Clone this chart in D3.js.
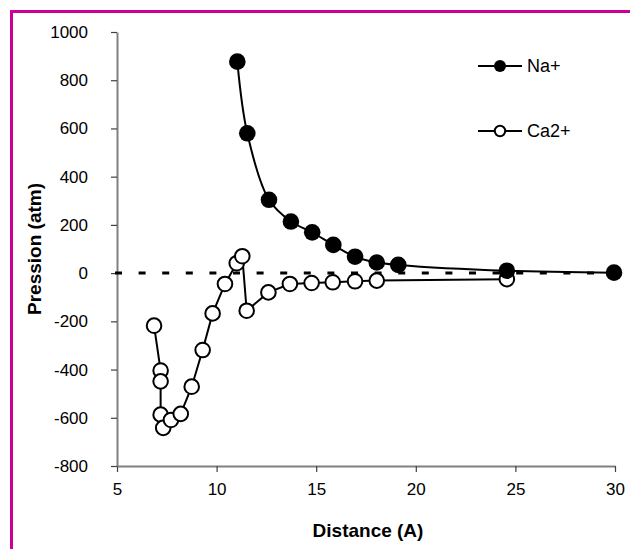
<!DOCTYPE html>
<html>
<head>
<meta charset="utf-8">
<script src="https://cdn.jsdelivr.net/npm/d3@7/dist/d3.min.js"></script>
<style>
  html, body { margin: 0; padding: 0; background: #fff; }
  svg { display: block; font-family: "Liberation Sans", Arial, Helvetica, sans-serif; }
</style>
</head>
<body>
<svg id="chart" width="630" height="549"></svg>
<script>
// Pressure vs. inter-surface distance for two counter-ions
const naDistance = [11.04, 11.54, 12.63, 13.73, 14.80, 15.86, 16.95, 18.04, 19.12, 24.57, 29.95];
const naPressure = [877, 580, 304, 214, 169, 117, 68, 44, 34, 10, 2];

const caDistance = [6.86, 7.19, 7.19, 7.19, 7.32, 7.71, 8.20, 8.75, 9.30, 9.80, 10.42, 11.01, 11.29, 11.51, 12.60, 13.68, 14.77, 15.83, 16.95, 18.04, 24.57];
const caPressure = [-218, -404, -449, -587, -642, -609, -584, -471, -319, -167, -45, 41, 70, -156, -80, -45, -41, -38, -34, -31, -25];

const xTicks = [5, 10, 15, 20, 25, 30];
const yTicks = [-800, -600, -400, -200, 0, 200, 400, 600, 800, 1000];

const seriesNames = ["Na+", "Ca2+"];

const svg = d3.select("#chart");

// frame
svg.append("rect")
  .attr("x", 11.5).attr("y", 11.5)
  .attr("width", 700).attr("height", 700)
  .attr("fill", "none")
  .attr("stroke", "#cc0099")
  .attr("stroke-width", 3);

const x = d3.scaleLinear().domain([5, 30]).range([117, 615]);
const y = d3.scaleLinear().domain([-800, 1000]).range([466, 32]);

const plain = d => String(d);

// axes
const xAxis = svg.append("g")
  .attr("transform", `translate(0,${y(-800)})`)
  .call(d3.axisBottom(x).tickValues(xTicks).tickFormat(plain).tickSize(6).tickPadding(11).tickSizeOuter(0));
const yAxis = svg.append("g")
  .attr("transform", `translate(${x(5)},0)`)
  .call(d3.axisLeft(y).tickValues(yTicks).tickFormat(plain).tickSize(6).tickPadding(23).tickSizeOuter(0));

[xAxis, yAxis].forEach(g => {
  g.select(".domain").attr("stroke", "#808080").attr("stroke-width", 2);
  g.selectAll(".tick line").attr("stroke", "#404040").attr("stroke-width", 1.2);
  g.selectAll(".tick text")
    .attr("fill", "#000")
    .style("font-size", "17px")
    .style("font-family", "'Liberation Sans', Arial, sans-serif");
});

// zero reference line
svg.append("line")
  .attr("x1", x(5) - 2).attr("x2", x(30))
  .attr("y1", y(0)).attr("y2", y(0))
  .attr("stroke", "#000")
  .attr("stroke-width", 3)
  .attr("stroke-dasharray", "7,16.6");

// axis titles
svg.append("text")
  .attr("x", 368)
  .attr("y", 537)
  .attr("text-anchor", "middle")
  .style("font-size", "19px")
  .style("font-weight", "bold")
  .text("Distance (A)");

svg.append("text")
  .attr("transform", `translate(41,${(y(1000) + y(-800)) / 2}) rotate(-90)`)
  .attr("text-anchor", "middle")
  .style("font-size", "19px")
  .style("font-weight", "bold")
  .text("Pression (atm)");

// series
const naData = naDistance.map((d, i) => [d, naPressure[i]]);
const caData = caDistance.map((d, i) => [d, caPressure[i]]);

svg.append("path")
  .datum(caData)
  .attr("fill", "none")
  .attr("stroke", "#000")
  .attr("stroke-width", 2)
  .attr("d", d3.line().x(d => x(d[0])).y(d => y(d[1])));

svg.append("path")
  .datum(naData)
  .attr("fill", "none")
  .attr("stroke", "#000")
  .attr("stroke-width", 2)
  .attr("d", d3.line().curve(d3.curveCatmullRom.alpha(0.5)).x(d => x(d[0])).y(d => y(d[1])));

svg.append("g").selectAll("circle")
  .data(caData)
  .join("circle")
  .attr("cx", d => x(d[0]))
  .attr("cy", d => y(d[1]))
  .attr("r", 7.3)
  .attr("fill", "#fff")
  .attr("stroke", "#000")
  .attr("stroke-width", 2);

svg.append("g").selectAll("circle")
  .data(naData)
  .join("circle")
  .attr("cx", d => x(d[0]))
  .attr("cy", d => y(d[1]))
  .attr("r", 8.3)
  .attr("fill", "#000");

// legend
const legend = svg.append("g");
const legendRows = [
  { name: seriesNames[0], y: 66, filled: true },
  { name: seriesNames[1], y: 131, filled: false }
];
legendRows.forEach(r => {
  legend.append("line")
    .attr("x1", 478).attr("x2", 522)
    .attr("y1", r.y).attr("y2", r.y)
    .attr("stroke", "#000").attr("stroke-width", 2);
  legend.append("circle")
    .attr("cx", 500).attr("cy", r.y)
    .attr("r", r.filled ? 6 : 5.2)
    .attr("fill", r.filled ? "#000" : "#fff")
    .attr("stroke", "#000")
    .attr("stroke-width", r.filled ? 0 : 2);
  legend.append("text")
    .attr("x", 527).attr("y", r.y)
    .attr("dy", "0.36em")
    .style("font-size", "18px")
    .text(r.name);
});
</script>
</body>
</html>
